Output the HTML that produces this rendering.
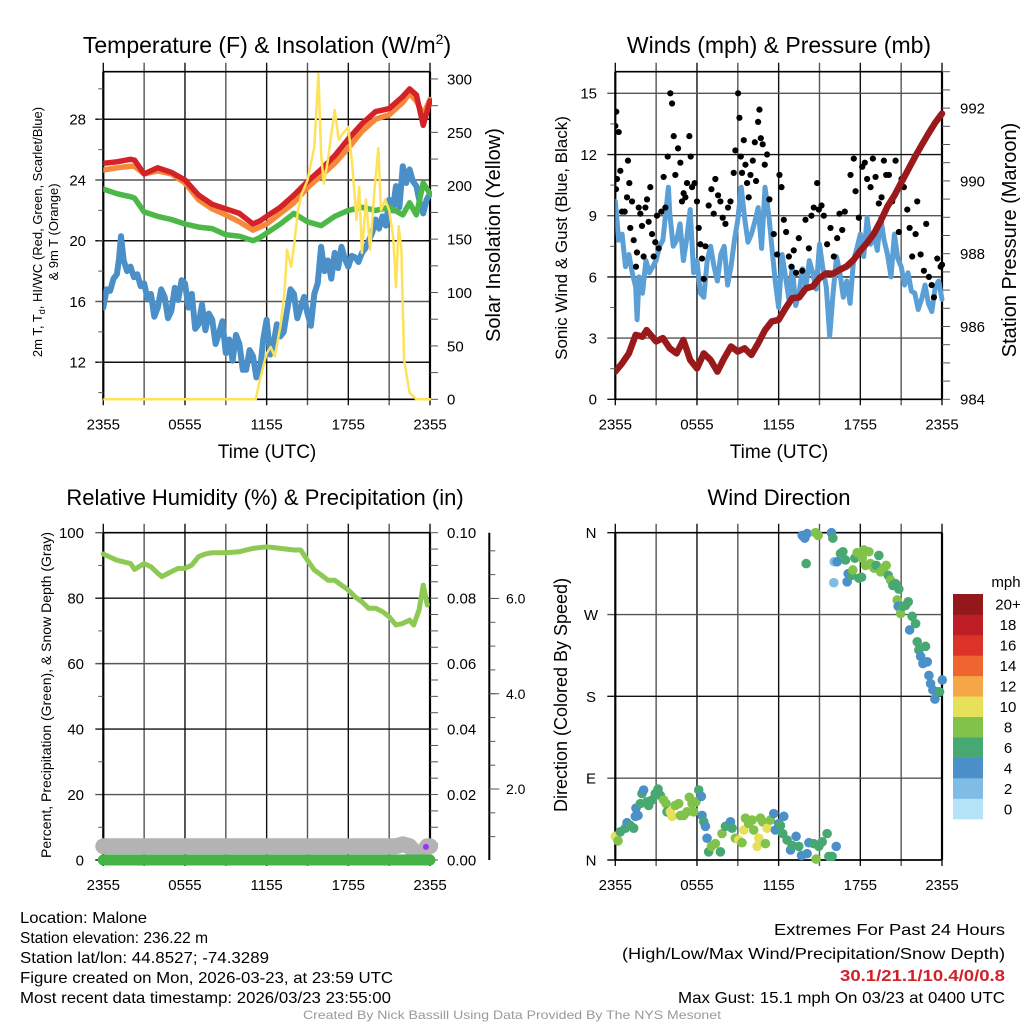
<!DOCTYPE html>
<html><head><meta charset="utf-8"><style>
html,body{margin:0;padding:0;background:#fff;}
svg{display:block;font-family:"Liberation Sans",sans-serif;}
</style></head><body>
<svg id="fig" width="1024" height="1024" viewBox="0 0 1024 1024" xmlns="http://www.w3.org/2000/svg">
<rect width="1024" height="1024" fill="#fff"/>
<text x="267" y="53" font-size="23" text-anchor="middle">Temperature (F) &amp; Insolation (W/m<tspan font-size="14" dy="-9">2</tspan><tspan dy="9">)</tspan></text>
<text x="779" y="53" font-size="23" text-anchor="middle">Winds (mph) &amp; Pressure (mb)</text>
<text x="265" y="505" font-size="22" text-anchor="middle">Relative Humidity (%) &amp; Precipitation (in)</text>
<text x="779" y="505" font-size="22" text-anchor="middle">Wind Direction</text>

<text x="267" y="458" font-size="19" text-anchor="middle">Time (UTC)</text>
<text x="779" y="458" font-size="19" text-anchor="middle">Time (UTC)</text>

<text transform="translate(42,232) rotate(-90)" font-size="13" text-anchor="middle">2m T, T<tspan font-size="9" dy="3">d</tspan><tspan dy="-3">, HI/WC (Red, Green, Scarlet/Blue)</tspan></text>
<text transform="translate(58,232) rotate(-90)" font-size="13" text-anchor="middle">&amp; 9m T (Orange)</text>
<text transform="translate(500,235) rotate(-90)" font-size="20" text-anchor="middle">Solar Insolation (Yellow)</text>
<text transform="translate(567,238) rotate(-90)" font-size="17" text-anchor="middle">Sonic Wind &amp; Gust (Blue, Black)</text>
<text transform="translate(1016,240) rotate(-90)" font-size="20" text-anchor="middle">Station Pressure (Maroon)</text>
<text transform="translate(51,695) rotate(-90)" font-size="14" text-anchor="middle">Percent, Precipitation (Green), &amp; Snow Depth (Gray)</text>
<text transform="translate(567,695) rotate(-90)" font-size="18" text-anchor="middle">Direction (Colored By Speed)</text>

<g font-size="16">
<text x="20" y="923" textLength="127" lengthAdjust="spacingAndGlyphs">Location: Malone</text>
<text x="20" y="943" textLength="188" lengthAdjust="spacingAndGlyphs">Station elevation: 236.22 m</text>
<text x="20" y="963" textLength="249" lengthAdjust="spacingAndGlyphs">Station lat/lon: 44.8527; -74.3289</text>
<text x="20" y="983" textLength="373" lengthAdjust="spacingAndGlyphs">Figure created on Mon, 2026-03-23, at 23:59 UTC</text>
<text x="20" y="1003" textLength="371" lengthAdjust="spacingAndGlyphs">Most recent data timestamp: 2026/03/23 23:55:00</text>
</g>
<g font-size="16">
<text x="1005" y="935" text-anchor="end" textLength="231" lengthAdjust="spacingAndGlyphs">Extremes For Past 24 Hours</text>
<text x="1005" y="959" text-anchor="end" textLength="383" lengthAdjust="spacingAndGlyphs">(High/Low/Max Wind/Precipitation/Snow Depth)</text>
<text x="1005" y="981" text-anchor="end" font-weight="bold" fill="#d0202a" textLength="165" lengthAdjust="spacingAndGlyphs">30.1/21.1/10.4/0/0.8</text>
<text x="1005" y="1003" text-anchor="end" textLength="327" lengthAdjust="spacingAndGlyphs">Max Gust: 15.1 mph On 03/23 at 0400 UTC</text>
</g>
<text x="512" y="1019" font-size="12" fill="#999" text-anchor="middle" textLength="418" lengthAdjust="spacingAndGlyphs">Created By Nick Bassill Using Data Provided By The NYS Mesonet</text>
</svg>
<script>
// ---------- Panel 1 data ----------
const tempHours = [0,1,2,2.3,3,4,5,6,7,8,9,10,11,11.5,12,13,14,15,16,17,18,19,20,21,22,22.5,23,23.5,24];
const tempRed = [25.1,25.2,25.36,25.3,24.4,24.8,24.5,24.0,23.0,22.4,22.1,21.8,21.1,21.3,21.6,22.2,23.0,23.9,24.7,25.6,26.7,27.7,28.5,28.7,29.5,30.0,29.6,27.6,29.2];
const temp9mOrange = [24.66,24.8,24.9,24.9,24.4,24.6,24.4,23.8,22.7,22.1,21.7,21.25,20.7,20.9,21.1,21.8,22.5,23.5,24.3,25.1,26.1,27.2,28.0,28.3,29.1,29.7,29.2,28.3,29.3];
const tempGreen = [23.4,23.1,22.9,22.8,21.9,21.6,21.4,21.1,20.9,20.8,20.4,20.3,20.0,20.2,20.5,21.1,21.8,21.25,21.0,21.6,22.0,22.2,22.0,22.2,21.7,22.5,21.7,23.8,23.1];
const dewHours = [0,0.25,0.5,0.75,1,1.15,1.3,1.5,1.75,2,2.25,2.5,2.75,3,3.25,3.5,3.75,4,4.25,4.5,4.75,5,5.25,5.5,5.75,6,6.25,6.5,6.75,7,7.25,7.5,7.75,8,8.25,8.5,8.75,9,9.25,9.5,9.75,10,10.25,10.5,10.75,11,11.25,11.5,11.75,12,12.25,12.5,12.75,13,13.25,13.5,13.75,14,14.25,14.5,14.75,15,15.25,15.5,15.75,16,16.25,16.5,16.75,17,17.25,17.5,17.75,18,18.25,18.5,18.75,19,19.25,19.5,19.75,20,20.25,20.5,20.75,21,21.25,21.5,21.75,22,22.25,22.5,22.75,23,23.25,23.5,23.75,24];
const dewBlue = [15.6,16.8,16.7,17.5,17.8,18.8,20.3,18.7,18.0,18.3,17.6,17.8,17.0,17.2,16.2,16.5,15.0,15.6,16.8,16.3,14.9,15.4,16.9,16.1,17.4,17.2,15.6,16.5,14.2,14.5,15.8,14.1,15.2,14.8,13.2,13.9,14.7,12.6,13.5,12.1,13.8,13.2,11.5,11.5,12.8,12.4,11.0,11.3,13.5,14.8,12.5,13.2,14.5,13.7,14.0,15.4,16.8,16.5,14.9,15.6,16.3,15.2,14.4,16.5,17.2,19.6,18.0,18.7,17.5,19.2,18.2,19.6,18.8,18.3,19.0,18.9,18.6,19.2,19.5,20.0,20.5,21.4,20.8,21.6,21.0,22.7,22.0,23.6,22.2,24.9,23.8,24.7,23.9,23.6,22.5,21.8,22.7,23.1];
const solarHours = [0,11.2,11.5,12,12.3,12.6,13,13.3,13.5,13.8,14,14.3,14.6,15,15.3,15.5,15.8,16,16.2,16.5,16.7,17,17.3,17.6,18,18.3,18.6,18.8,19,19.3,19.6,19.9,20.2,20.4,20.7,21,21.3,21.5,21.7,21.9,22.1,22.5,23,24];
const solarYellow = [0,0,18,43,49,40,68,99,140,124,143,177,193,205,224,236,305,230,202,224,243,271,243,249,255,218,168,199,137,187,140,193,235,177,187,177,152,105,162,140,37,6,0,0];
const p1LeftTicks = [12,16,20,24,28];
const p1RightTicks = [0,50,100,150,200,250,300];

// ---------- Panel 2 data ----------
const windHours = [0,0.25,0.5,0.75,1,1.25,1.5,1.6,1.75,2,2.25,2.5,2.75,3,3.25,3.5,3.9,4,4.25,4.5,4.75,5,5.25,5.5,5.75,6,6.25,6.5,6.75,7,7.25,7.5,7.75,8,8.25,8.5,8.75,9,9.25,9.5,9.75,10,10.25,10.5,10.75,11,11.3,11.5,11.75,12,12.25,12.5,12.75,13,13.25,13.5,13.75,14,14.25,14.5,14.75,15,15.25,15.5,15.75,16,16.25,16.5,16.75,17,17.25,17.5,17.75,18,18.25,18.5,18.75,19,19.25,19.5,19.75,20,20.25,20.5,20.75,21,21.25,21.5,21.75,22,22.25,22.5,22.75,23,23.25,23.5,23.75,24];
const windBlue = [9.7,7.8,8.1,6.5,7.1,6.2,5.5,3.9,6.0,5.2,6.8,6.2,6.5,6.8,7.5,7.8,10.4,9.1,7.5,7.8,8.6,6.8,7.9,9.3,6.2,6.8,5.2,5.0,6.8,7.5,6.5,5.8,7.1,7.5,5.6,6.5,7.8,8.8,10.4,8.9,7.7,8.1,8.7,9.4,7.4,10.4,8.9,7.5,5.8,4.5,7.1,6.0,4.9,6.5,4.6,5.2,6.4,5.5,6.8,6.2,5.4,7.6,6.4,5.5,3.1,5.2,7.0,6.2,5.0,5.8,4.7,6.8,7.4,8.1,7.0,8.9,7.6,8.1,7.3,8.9,7.8,7.1,6.0,8.1,6.9,6.5,5.6,6.2,5.3,5.2,4.4,4.9,5.6,4.7,4.3,5.5,5.8,4.9];
const gustHours = [0,0.07,0.25,0.05,0.12,0.37,0.49,0.69,0.86,0.93,1.03,1.10,1.23,1.35,1.52,1.59,1.72,1.84,1.96,2.08,2.21,2.33,2.45,2.57,2.70,2.82,2.94,3.06,3.19,3.38,3.55,3.68,3.85,4.04,4.17,4.29,4.41,4.61,4.78,4.90,5.02,5.15,5.27,5.44,5.54,5.64,5.83,6.00,6.13,6.25,6.37,6.50,6.62,6.86,7.06,7.23,7.35,7.55,7.72,7.89,8.09,8.28,8.46,8.70,8.82,9.02,9.12,9.22,9.31,9.44,9.56,9.68,9.80,9.93,10.10,10.25,10.34,10.49,10.59,10.69,10.83,10.98,11.15,11.32,11.64,11.89,12.06,12.21,12.38,12.55,12.75,12.94,13.11,13.28,13.48,13.73,13.97,14.22,14.41,14.58,14.83,14.95,15.15,15.32,15.56,15.81,16.05,16.30,16.47,16.67,16.86,17.11,17.28,17.52,17.65,17.89,18.14,18.33,18.50,18.75,18.92,19.12,19.36,19.56,19.73,19.90,20.10,20.34,20.59,20.83,21.03,21.20,21.45,21.62,21.81,22.06,22.18,22.43,22.67,22.84,23.04,23.24,23.41,23.65,23.90,24.0];
const gustBlack = [13.4,14.1,13.1,10.3,10.8,11.2,9.2,9.2,9.9,11.7,10.6,8.4,9.7,7.8,6.5,7.2,9.4,9.1,8.5,7.0,9.4,9.8,8.7,10.4,8.1,7.0,7.7,9.0,7.4,9.2,10.9,9.4,11.9,15.0,14.5,12.9,11.0,12.3,11.6,9.7,10.1,9.9,10.6,12.9,11.9,10.4,10.6,9.7,8.4,7.6,6.9,5.9,7.5,9.5,10.3,9.1,10.8,10.0,9.7,8.9,8.6,9.4,9.7,11.1,12.2,15.0,13.8,11.9,11.1,12.7,11.5,10.6,9.9,11.0,11.7,12.6,10.7,13.6,14.2,12.8,12.5,11.5,12.0,9.8,8.1,7.1,11.0,10.4,8.8,8.2,7.0,6.5,7.3,6.2,7.9,6.3,8.8,7.4,9.0,9.4,10.6,9.3,9.5,9.0,7.6,8.4,7.0,7.9,9.1,8.3,9.2,6.6,11.0,11.8,10.2,8.9,11.4,11.6,10.8,10.4,11.8,10.9,9.6,9.9,11.7,11.0,11.0,9.7,11.7,8.2,10.8,10.4,9.3,8.4,7.0,8.1,9.7,7.1,6.3,8.6,6.0,5.6,5.0,6.9,6.5,6.6];
const presHours = [0,0.5,1,1.5,2,2.3,3,3.5,4,4.5,5,5.5,6,6.5,7,7.5,8,8.5,9,9.5,10,10.5,11,11.5,12,12.5,13,13.5,14,14.5,15,15.5,16,16.5,17,17.5,18,18.5,19,19.5,20,20.5,21,21.5,22,22.5,23,23.5,24];
const presMaroon = [984.76,984.99,985.26,985.77,985.72,985.9,985.59,985.68,985.4,985.26,985.63,985.08,984.85,985.26,985.08,984.76,985.13,985.45,985.31,985.4,985.22,985.54,985.9,986.14,986.18,986.5,986.78,986.8,987.05,987.1,987.33,987.46,987.45,987.56,987.65,987.83,988.08,988.3,988.55,988.9,989.3,989.6,989.95,990.3,990.65,990.98,991.3,991.6,991.85];
const p2LeftTicks = [0,3,6,9,12,15];
const p2RightTicks = [984,986,988,990,992];

// ---------- Panel 3 data ----------
const rhHours = [0,1,2,2.3,3,3.5,4,4.3,5,5.5,6,6.5,7,7.5,8,9,10,10.5,11,12,13,14,14.5,15,15.5,16,16.5,17,17.5,18,18.5,19,19.5,20,20.5,21,21.5,22,22.5,22.8,23.2,23.5,23.8];
const rhGreen = [93.5,91.6,90.6,88.8,90.6,89.6,87.6,86.6,88.1,89.1,89.1,90.1,92.7,93.5,93.9,93.9,94.2,94.7,95.2,95.7,95.2,94.7,94.7,91.6,88.6,87.1,85.5,85.5,84.0,82.5,80.4,78.9,76.9,76.9,75.9,74.3,71.8,72.3,73.3,71.8,76.4,84.0,77.9];
const snowHours = [0,2,4,6,8,10,12,14,16,18,20,21.5,22,22.5,23,23.4,23.8,24];
const snowDepth = [0.8,0.8,0.8,0.8,0.8,0.8,0.8,0.8,0.8,0.8,0.8,0.8,0.84,0.8,0.62,0.62,0.8,0.8];
const precipHours = [0,4,8,12,16,20,24];
const precipIn = [0,0,0,0,0,0,0];
const p3LeftTicks = [0,20,40,60,80,100];
const p3RightTicks = ["0.00","0.02","0.04","0.06","0.08","0.10"];
const p3SnowTicks = ["2.0","4.0","6.0"];

// ---------- Panel 4 data ----------
const dirHours = [0,0.20,0.37,0.74,0.86,1.10,1.35,1.47,1.67,1.52,1.84,1.96,2.08,2.33,2.45,2.70,2.94,3.14,3.31,3.55,3.73,3.80,4.04,4.17,4.41,4.66,4.78,5.02,5.27,5.44,5.64,5.76,5.93,6.13,6.32,6.37,6.50,6.62,6.74,6.86,7.06,7.35,7.72,7.84,8.09,8.46,8.58,8.82,9.07,9.31,9.44,9.56,9.80,10.05,10.17,10.42,10.54,10.66,10.83,11.03,11.15,11.40,11.64,11.76,12.01,12.13,12.38,12.30,12.62,12.87,12.99,13.28,13.48,13.68,14.09,14.22,14.58,14.75,14.95,15.20,15.56,15.69,15.93,16.23,
13.73,13.92,14.09,14.02,14.71,14.90,15.88,15.98,16.08,16.05,16.30,16.54,16.72,16.91,17.03,17.11,17.35,17.45,17.60,17.77,17.89,18.09,18.14,18.26,18.38,18.63,18.75,19.00,19.17,19.36,19.49,19.73,19.90,20.05,20.22,20.39,20.59,20.83,20.71,20.78,20.96,21.13,21.32,21.52,21.62,21.81,22.06,22.18,22.30,22.43,22.60,22.79,22.92,23.04,23.16,23.33,23.48,23.65,23.82,24.02];
const dirDeg = [26,21,31,35,41,38,35,48,49,57,62,73,77,64,60,66,73,78,71,66,62,53,53,48,60,62,49,49,53,69,62,53,64,77,70,49,42,37,24,9,15,18,9,29,37,42,35,24,22,19,33,46,40,44,33,15,24,46,42,18,35,44,51,33,40,38,48,29,22,11,16,26,15,5,7,19,18,1,15,20,29,4,4,15,
357,354,359,326,360,357,360,354,328,305,328,337,339,330,306,315,313,319,332,338,310,311,332,341,324,339,326,321,324,335,317,321,324,313,308,302,304,298,286,279,271,279,280,284,253,268,260,240,231,224,216,235,218,203,194,187,177,185,185,198];
const dirSpeed = [10.5,8.5,6.5,6.5,4.5,6.5,6.5,4.5,4.5,4.5,6.5,6.5,4.5,6.5,6.5,6.5,6.5,6.5,6.5,8.5,8.5,6.5,10.5,10.5,8.5,8.5,8.5,8.5,8.5,8.5,8.5,8.5,8.5,6.5,4.5,4.5,6.5,4.5,4.5,6.5,8.5,8.5,6.5,8.5,6.5,4.5,6.5,8.5,10.5,8.5,10.5,8.5,8.5,8.5,8.5,10.5,10.5,8.5,8.5,8.5,10.5,8.5,4.5,4.5,4.5,6.5,4.5,6.5,6.5,4.5,6.5,4.5,6.5,4.5,4.5,4.5,6.5,8.5,6.5,6.5,6.5,6.5,6.5,4.5,
4.5,4.5,4.5,6.5,8.5,8.5,4.5,6.5,2.5,2.5,4.5,6.5,6.5,6.5,4.5,4.5,6.5,8.5,6.5,8.5,6.5,6.5,8.5,8.5,8.5,8.5,8.5,8.5,6.5,6.5,8.5,8.5,8.5,6.5,8.5,6.5,6.5,6.5,8.5,4.5,8.5,6.5,6.5,6.5,4.5,6.5,6.5,6.5,6.5,4.5,4.5,6.5,4.5,4.5,4.5,4.5,4.5,4.5,6.5,4.5];
const dirTicks = ["N","E","S","W","N"];
const speedBinColors = ["#b5e3f7","#80bde6","#4b90c8","#48a872","#80c24a","#e6e05a","#f5a646","#ee6530","#dc3328","#bd1e26","#93171b"];
const speedBinLabels = ["0","2","4","6","8","10","12","14","16","18","20+"];
const timeTickLabels = ["2355","0555","1155","1755","2355"];

// ---------- drawing ----------
const NS = "http://www.w3.org/2000/svg";
const svg = document.getElementById('fig');
function mk(tag, attrs, parent) {
  const e = document.createElementNS(NS, tag);
  for (const k in attrs) e.setAttribute(k, attrs[k]);
  (parent || svg).appendChild(e);
  return e;
}
function lin(d0, d1, r0, r1) { return v => r0 + (v - d0) * (r1 - r0) / (d1 - d0); }
function pathD(xs, ys, fx, fy) { return xs.map((h, i) => (i ? 'L' : 'M') + fx(h).toFixed(1) + ',' + fy(ys[i]).toFixed(1)).join(''); }

const X0 = [103.3, 615.3], X1 = [430, 942];
function frame(g, px0, px1, top, bot, fx, yTicks, fy) {
  for (let h = 0; h <= 24; h += 3) {
    const x = fx(h);
    const l = mk('line', {x1: x, x2: x, y1: top - 9, y2: bot + 6, stroke: (h % 6 === 0 ? '#111' : '#555'), 'stroke-width': 1.4}, g);
    
    
  }
  yTicks.forEach((v, i) => {
    const y = fy(v);
    const l = mk('line', {x1: px0 - 8, x2: px1, y1: y, y2: y, stroke: (i % 2 ? '#555' : '#111'), 'stroke-width': 1.4}, g);
    
    
  });
  const b = mk('line', {x1: px0, x2: px1, y1: top, y2: top, stroke: '#000', 'stroke-width': 1.6}, g);
  
  
  const bb = mk('line', {x1: px0, x2: px1, y1: bot, y2: bot, stroke: '#000', 'stroke-width': 1.6}, g);
  
  
  const la = mk('line', {x1: px0, x2: px0, y1: top, y2: bot, stroke: '#000', 'stroke-width': 2.2}, g);
  
  
  const ra = mk('line', {x1: px1, x2: px1, y1: top, y2: bot, stroke: '#000', 'stroke-width': 2.2}, g);
  
  
  timeTickLabels.forEach((t, i) => {
    const tx = mk('text', {x: fx(i * 6), y: bot + 30, 'font-size': 15, 'text-anchor': 'middle'}, g);
    tx.textContent = t;
    
    
  });
}
function leftLabels(g, px0, vals, texts, fy, font, anchorX, anchor) {
  vals.forEach((v, i) => {
    const tx = mk('text', {x: anchorX, y: fy(v) + font * 0.36, 'font-size': font, 'text-anchor': anchor || 'end'}, g);
    tx.textContent = texts[i];
    
    
  });
}
function minorTicks(g, x, from, to, step, fy, dir, len) {
  for (let v = from; v <= to + 1e-9; v += step) {
    const y = fy(v);
    const t = mk('line', {x1: x, x2: x + dir * len, y1: y, y2: y, stroke: '#555', 'stroke-width': 1}, g);
    
    
  }
}
function series(g, xs, ys, fx, fy, color, w, name) {
  const p = mk('path', {d: pathD(xs, ys, fx, fy), fill: 'none', stroke: color, 'stroke-width': w, 'stroke-linejoin': 'round', 'stroke-linecap': 'round'}, g);
  
  
  return p;
}

// Panel 1
(function () {
  const g = mk('g', {});
  
  
  const top = 71.7, bot = 399.3;
  const fx = lin(0, 24, X0[0], X1[0]);
  const fy = lin(9.56, 31.13, bot, top);
  const fyR = lin(0, 306.8, bot, top);
  frame(g, X0[0], X1[0], top, bot, fx, p1LeftTicks, fy);
  leftLabels(g, X0[0], p1LeftTicks, p1LeftTicks.map(String), fy, 15, 86);
  minorTicks(g, X0[0], 10, 30, 2, fy, -1, 5);
  minorTicks(g, X1[0], 0, 300, 25, fyR, 1, 8);
  leftLabels(g, X1[0], p1RightTicks, p1RightTicks.map(String), fyR, 15, 447, 'start');
  const clip = mk('clipPath', {id: 'c1'}, g); mk('rect', {x: X0[0], y: top - 2, width: X1[0] - X0[0] + 2, height: bot - top + 4}, clip);
  const s = mk('g', {'clip-path': 'url(#c1)'}, g);
  series(s, dewHours, dewBlue, fx, fy, '#4a8fc7', 6, 'dewpoint-line');
  series(s, tempHours, tempGreen, fx, fy, '#4cb848', 5.5, 'green-temp-line');
  series(s, tempHours, temp9mOrange, fx, fy, '#f6883a', 5.5, 'orange-9m-temp-line');
  series(s, tempHours, tempRed, fx, fy, '#d42328', 5.5, 'red-2m-temp-line');
  series(s, solarHours, solarYellow, fx, fyR, '#fde25a', 2.5, 'solar-insolation-line');
})();

// Panel 2
(function () {
  const g = mk('g', {});
  
  
  const top = 71.7, bot = 399.3;
  const fx = lin(0, 24, X0[1], X1[1]);
  const fy = lin(0, 16.06, bot, top);
  const fyR = lin(984, 993.0, bot, top);
  frame(g, X0[1], X1[1], top, bot, fx, p2LeftTicks, fy);
  leftLabels(g, X0[1], p2LeftTicks, p2LeftTicks.map(String), fy, 15, 597);
  minorTicks(g, X0[1], 1.5, 15, 3, fy, -1, 5);
  minorTicks(g, X1[1], 984, 993, 0.5, fyR, 1, 8);
  leftLabels(g, X1[1], p2RightTicks, p2RightTicks.map(String), fyR, 15, 960, 'start');
  const clip = mk('clipPath', {id: 'c2'}, g); mk('rect', {x: X0[1], y: top - 2, width: X1[1] - X0[1] + 4, height: bot - top + 4}, clip);
  const s = mk('g', {'clip-path': 'url(#c2)'}, g);
  series(s, windHours, windBlue, fx, fy, '#5a9fd6', 5, 'sonic-wind-line');
  gustHours.forEach((h, i) => {
    const c = mk('circle', {cx: fx(h), cy: fy(gustBlack[i]), r: 3.1, fill: '#000'}, s);
    
    
  });
  series(s, presHours, presMaroon, fx, fyR, '#9a1a1c', 6.5, 'station-pressure-line');
})();

// Panel 3
(function () {
  const g = mk('g', {});
  
  
  const top = 532.7, bot = 860;
  const fx = lin(0, 24, X0[0], X1[0]);
  const fy = lin(0, 100, bot, top);
  const fyP = lin(0, 0.1, bot, top);
  const fyS = lin(0.51, 7.38, bot, top);
  frame(g, X0[0], X1[0], top, bot, fx, p3LeftTicks, fy);
  leftLabels(g, X0[0], p3LeftTicks, p3LeftTicks.map(String), fy, 15, 84);
  minorTicks(g, X0[0], 10, 90, 20, fy, -1, 5);
  minorTicks(g, X1[0], 0, 0.1, 0.005, fyP, 1, 8);
  leftLabels(g, X1[0], p3RightTicks.map(Number), p3RightTicks, fyP, 15, 447, 'start');
  const ax = mk('line', {x1: 489.3, x2: 489.3, y1: top, y2: bot, stroke: '#000', 'stroke-width': 2}, g);
  
  
  minorTicks(g, 489.3, 1, 7, 0.5, fyS, 1, 6);
  minorTicks(g, 489.3, 2, 6, 2, fyS, 1, 10);
  leftLabels(g, 489.3, p3SnowTicks.map(Number), p3SnowTicks, fyS, 14, 506, 'start');
  const s = mk('g', {}, g);
  series(s, snowHours, snowDepth, fx, fyS, '#b3b3b3', 16, 'snow-depth-line');
  series(s, precipHours, precipIn, fx, fyP, '#45b245', 11, 'precipitation-line');
  series(s, rhHours, rhGreen, fx, fy, '#8ec953', 5, 'relative-humidity-line');
  const pu = mk('circle', {cx: fx(23.7), cy: fy(4), r: 3, fill: '#9b30ff'}, s);
  
  
})();

// Panel 4
(function () {
  const g = mk('g', {});
  
  
  const top = 532.7, bot = 860;
  const fx = lin(0, 24, X0[1], X1[1]);
  const fy = lin(0, 360, bot, top);
  const vals = [0, 90, 180, 270, 360];
  frame(g, X0[1], X1[1], top, bot, fx, vals, fy);
  leftLabels(g, X0[1], vals, dirTicks, fy, 15, 591, 'middle');
  dirHours.forEach((h, i) => {
    const bin = Math.min(10, Math.floor(dirSpeed[i] / 2));
    const c = mk('circle', {cx: fx(h), cy: fy(dirDeg[i]), r: 4.8, fill: speedBinColors[bin]}, g);
    
    
  });
  const cb = mk('g', {}, g);
  
  
  const bh = (819 - 594) / speedBinColors.length;
  speedBinColors.forEach((col, i) => {
    const y = 819 - (i + 1) * bh;
    const r = mk('rect', {x: 953, y: y, width: 30, height: bh + 0.3, fill: col}, cb);
    
    
    const t = mk('text', {x: 1008, y: y + bh / 2 + 5.5, 'font-size': 15, 'text-anchor': 'middle'}, cb);
    t.textContent = speedBinLabels[i];
    
    
  });
  const u = mk('text', {x: 1006, y: 587, 'font-size': 15, 'text-anchor': 'middle'}, cb);
  u.textContent = 'mph';
  
  
})();
</script>
</body></html>
